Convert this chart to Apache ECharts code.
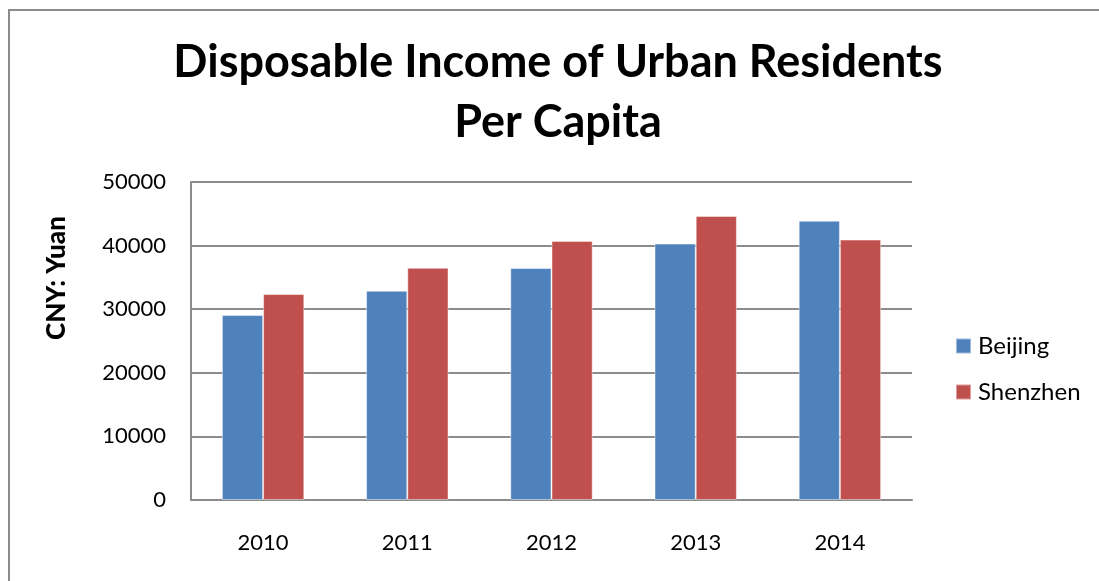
<!DOCTYPE html>
<html>
<head>
<meta charset="utf-8">
<script src="https://cdn.jsdelivr.net/npm/echarts@6/dist/echarts.min.js"></script>
<style>
  html, body { margin: 0; padding: 0; background: #fff; }
  #chart { width: 1099px; height: 581px; }
</style>
</head>
<body>
<div id="chart"></div>
<script>
// Per-capita disposable income of urban residents (CNY)
const years = ['2010', '2011', '2012', '2013', '2014'];
const beijing = [29073, 32903, 36469, 40321, 43910];
const shenzhen = [32381, 36505, 40742, 44653, 40948];
const yTicks = { min: 0, max: 50000, interval: 10000 };

const FONT = 'Lato, "Open Sans", sans-serif';
const chart = echarts.init(document.getElementById('chart'));

chart.setOption({
  backgroundColor: '#ffffff',
  animation: false,
  textStyle: { fontFamily: FONT },
  grid: { left: 191, right: 187, top: 182, bottom: 81 },
  graphic: [
    {
      type: 'rect',
      shape: { x: 9, y: 10, width: 1200, height: 700 },
      style: { fill: 'none', stroke: '#8c8c8c', lineWidth: 2 },
      silent: true
    },
    {
      type: 'text',
      x: 558, y: 92,
      style: {
        text: 'Disposable Income of Urban Residents\nPer Capita',
        font: 'bold 45px ' + FONT,
        fill: '#000',
        align: 'center',
        verticalAlign: 'middle',
        lineHeight: 60
      }
    },
    {
      type: 'text',
      x: 57, y: 278,
      rotation: Math.PI / 2,
      style: {
        text: 'CNY: Yuan',
        font: '900 26px ' + FONT,
        fill: '#000',
        align: 'center',
        verticalAlign: 'middle'
      }
    }
  ],
  legend: {
    orient: 'vertical',
    left: 955,
    top: 334,
    padding: 0,
    itemWidth: 15,
    itemHeight: 15,
    itemGap: 22,
    icon: 'rect',
    textStyle: { fontSize: 24, color: '#000', fontFamily: FONT, padding: [0, 0, 0, 2] },
    data: ['Beijing', 'Shenzhen']
  },
  xAxis: {
    type: 'category',
    data: years,
    axisLine: { lineStyle: { color: '#8c8c8c', width: 2 } },
    axisTick: { show: false },
    axisLabel: { color: '#000', fontSize: 22, margin: 32, fontFamily: FONT }
  },
  yAxis: {
    type: 'value',
    min: yTicks.min,
    max: yTicks.max,
    interval: yTicks.interval,
    axisLine: { show: true, lineStyle: { color: '#8c8c8c', width: 2 } },
    axisTick: { show: false },
    axisLabel: { color: '#000', fontSize: 22, margin: 25, fontFamily: FONT, formatter: v => String(v) },
    splitLine: { lineStyle: { color: '#8c8c8c', width: 2 } }
  },
  series: [
    {
      name: 'Beijing',
      type: 'bar',
      data: beijing,
      barGap: '0%',
      barCategoryGap: '42.86%',
      itemStyle: { color: '#4f81bd', borderColor: 'rgba(255,255,255,0.45)', borderWidth: 1 }
    },
    {
      name: 'Shenzhen',
      type: 'bar',
      data: shenzhen,
      barGap: '0%',
      barCategoryGap: '42.86%',
      itemStyle: { color: '#c0504d', borderColor: 'rgba(255,255,255,0.45)', borderWidth: 1 }
    }
  ]
});
</script>
</body>
</html>
